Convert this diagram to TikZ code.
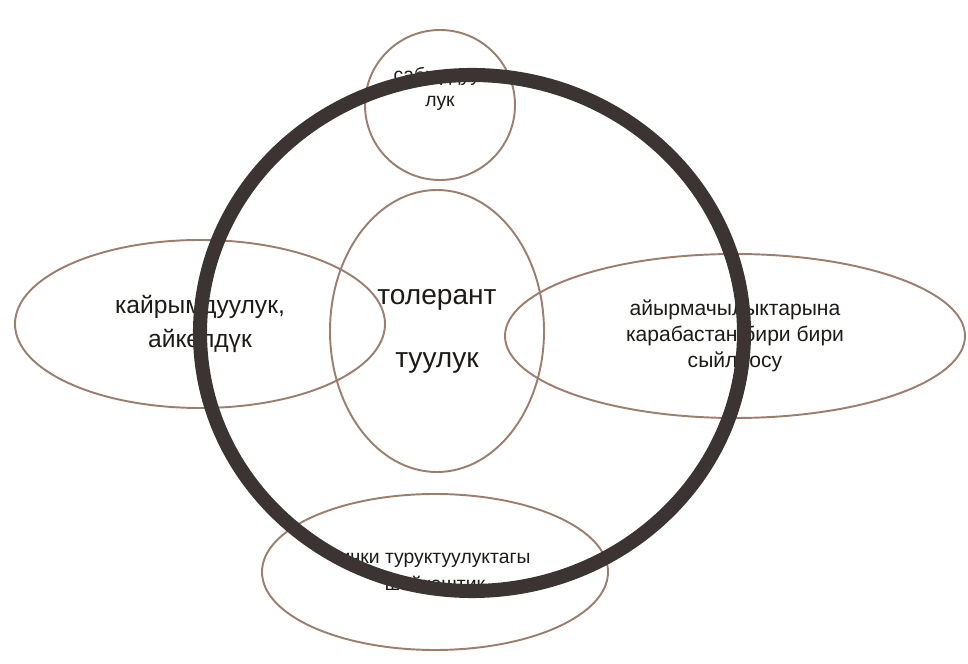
\documentclass[tikz,border=0pt]{standalone}
\usepackage{fontspec}
\setmainfont{Liberation Sans}
\usetikzlibrary{positioning,shapes.geometric}
\definecolor{Ink}{HTML}{1E1A18}
\definecolor{Tan}{HTML}{9C7E6E}
\definecolor{RingGray}{HTML}{3B3432}
\tikzset{
  oval/.style={ellipse, draw=Tan, line width=1.1pt, inner sep=0pt, align=center, text=Ink},
  lbl/.style={align=center, text=Ink, inner sep=0pt},
  ring/.style={ellipse, draw=RingGray, line width=8pt, inner sep=0pt}
}

\begin{document}
\begin{tikzpicture}
\useasboundingbox (0,0) rectangle (19.36,13.28);
\node[oval, minimum width=3.0cm, minimum height=3.0cm] (sabyr) at (8.8,11.18) {};
\node[lbl, font=\fontsize{11}{14}\selectfont] (sabyrtxt) at (8.8,11.5) {сабырдуу-\\лук};
\node[oval, minimum width=7.4cm, minimum height=3.36cm, font=\fontsize{14}{19}\selectfont] (kairym) at (4.0,6.80) {кайрымдуулук,\\айкөлдүк};
\node[oval, minimum width=9.2cm, minimum height=3.28cm, font=\fontsize{12}{15}\selectfont] (sylo) at (14.7,6.56) {айырмачылыктарына\\карабастан бири бири\\сыйлоосу};
\node[oval, minimum width=6.92cm, minimum height=3.12cm, font=\fontsize{11}{15}\selectfont] (shaik) at (8.7,1.84) {ички туруктуулуктагы\\шайкештик};
\node[oval, minimum width=4.28cm, minimum height=5.64cm, font=\fontsize{16}{36}\selectfont] (toler) at (8.74,6.66) {толерант\\туулук};
% thick ring on top
\node[ring, minimum width=10.88cm, minimum height=10.32cm] (circ) at (9.44,6.62) {};
\end{tikzpicture}
\end{document}
